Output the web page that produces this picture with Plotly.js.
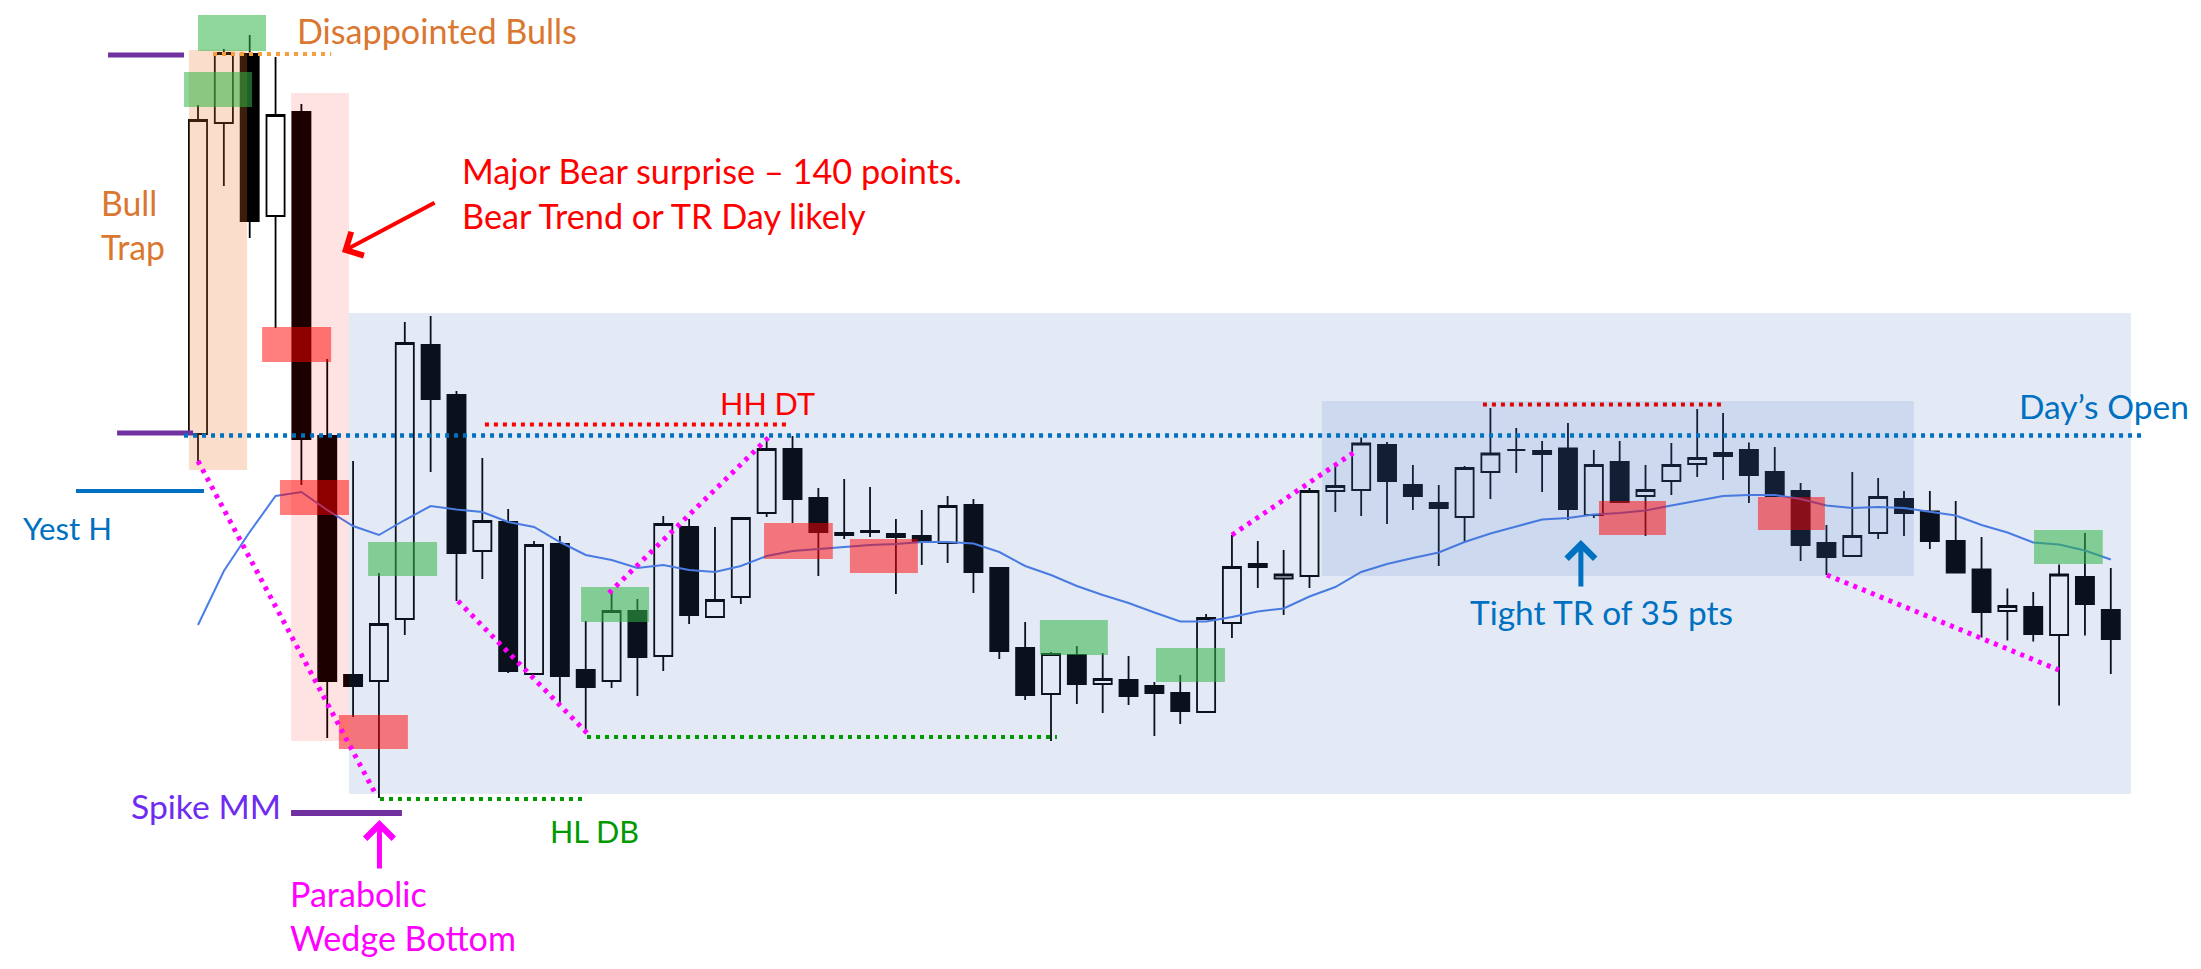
<!DOCTYPE html>
<html><head><meta charset="utf-8">
<script src="https://cdn.plot.ly/plotly-3.0.1.min.js"></script>
<style>html,body{margin:0;padding:0;background:#fff;}#chart{width:2201px;height:969px;}</style>
</head><body><div id="chart"></div>
<script>
// ---- data (bar index 0..74, prices) ----
const openP = [4133.2, 4195.4, 4209.2, 4176.8, 4197.6, 4132.8, 4085, 4083.8, 4096.2, 4151,
 4141, 4109.8, 4115.6, 4085.2, 4111.2, 4086, 4083.8, 4097.8, 4088.8, 4114.6,
 4096.6, 4100.6, 4117.4, 4130.2, 4120.4, 4113, 4113.8, 4113.2, 4112.8, 4111.4,
 4119, 4106.4, 4090.4, 4081.2, 4089, 4083.2, 4084, 4082.8, 4081.4, 4077.6,
 4095.4, 4106.6, 4104.3, 4104.8, 4121.8, 4122, 4131, 4123, 4119.4, 4116.6,
 4125.6, 4130, 4129.8, 4130.3, 4117, 4127.6, 4120.8, 4123.8, 4127.2, 4128.8,
 4130, 4125.6, 4121.8, 4111.4, 4108.8, 4113.4, 4120.2, 4117.7, 4111.8, 4106.1,
 4097.8, 4098.6, 4093, 4104.6, 4098];
const highP = [4199, 4210.2, 4213, 4208.6, 4199.2, 4148.2, 4127.8, 4105.4, 4155.6, 4156.8,
 4141.8, 4128.4, 4118.2, 4111.8, 4112.8, 4095.8, 4101.6, 4100.2, 4116.8, 4116.2,
 4114.6, 4116.4, 4132.4, 4132.8, 4122.4, 4124.2, 4122.6, 4116.2, 4118, 4120.8,
 4120.2, 4106.4, 4095.6, 4089.6, 4090.8, 4089.4, 4088.8, 4083.6, 4085, 4097.2,
 4113, 4111.8, 4110, 4122.4, 4127, 4132.5, 4131.6, 4127, 4123, 4126.8,
 4138.4, 4134.4, 4131.8, 4135.4, 4130, 4131.8, 4127, 4131.4, 4138.2, 4137.4,
 4131.5, 4130.6, 4123.4, 4115, 4125.6, 4124.4, 4121.8, 4121.8, 4119.8, 4112.6,
 4102.3, 4101.6, 4107.1, 4113.4, 4106.4];
const lowP = [4127.8, 4182.8, 4172.4, 4154.4, 4123, 4072.4, 4076.6, 4060.4, 4093, 4125.6,
 4099.8, 4104.2, 4085.4, 4085, 4079.2, 4073.8, 4082.4, 4080.8, 4085.8, 4095.2,
 4096.6, 4099.2, 4116.6, 4115.4, 4104.8, 4112.2, 4112.6, 4101.2, 4107, 4107.4,
 4101.4, 4088.2, 4080, 4071.8, 4079.2, 4077.4, 4079, 4072.8, 4075.2, 4077.6,
 4092.4, 4102.4, 4097, 4102.4, 4117.6, 4116.8, 4115.2, 4118, 4106.8, 4111.6,
 4120.2, 4125.4, 4121.6, 4116, 4116.4, 4119.4, 4112.8, 4121, 4124.6, 4124,
 4119.4, 4120.6, 4107.8, 4105, 4108.8, 4112.2, 4112.8, 4110.2, 4105.3, 4092.5,
 4091.9, 4091.7, 4078.9, 4092.9, 4085.2];
const closeP = [4196, 4209.4, 4175.8, 4197, 4132.2, 4083.8, 4082.8, 4095.2, 4151.4, 4140.2,
 4109.4, 4115.8, 4085.8, 4111, 4084.8, 4082.6, 4097.8, 4088.6, 4115.2, 4097,
 4100, 4116.4, 4130.2, 4120.2, 4113.6, 4113.4, 4113.6, 4112.6, 4111.6, 4118.8,
 4105.6, 4089.8, 4081, 4089.2, 4083.2, 4084.2, 4080.8, 4081.4, 4077.8, 4096.4,
 4106.6, 4107.2, 4105.1, 4121.8, 4122.8, 4131.3, 4123.8, 4120.8, 4118.4, 4126.4,
 4129.3, 4130, 4129.2, 4118.2, 4127, 4119.6, 4122, 4127, 4128.4, 4129.4,
 4125, 4120.8, 4111, 4108.6, 4112.8, 4120.6, 4117.4, 4111.8, 4105.5, 4097.6,
 4098.8, 4093.2, 4105.1, 4099.2, 4092.2];
const emaP = [4095, 4105.8, 4113.6, 4120.8, 4121.6, 4118, 4114.8, 4113, 4116, 4118.8,
 4118.1, 4117.6, 4115.6, 4114.6, 4111.6, 4109, 4108, 4106.4, 4107, 4106,
 4105.6, 4106.8, 4108.8, 4109.8, 4110.2, 4110.6, 4111, 4111.2, 4111.6, 4111.6,
 4111.3, 4109.6, 4106.8, 4105, 4102.8, 4101, 4099.4, 4097.5, 4095.7, 4095.7,
 4096.6, 4097.7, 4098.3, 4100.7, 4102.6, 4105.6, 4107.2, 4108.4, 4109.5, 4111.6,
 4113.3, 4114.7, 4116.1, 4116.4, 4117.1, 4117.4, 4117.9, 4118.9, 4119.9, 4120.8,
 4121, 4121, 4120.2, 4118.9, 4118.4, 4118.6, 4118.4, 4117.7, 4116.9, 4115,
 4113.5, 4111.5, 4111.1, 4109.9, 4108.1];
const barIdx = openP.map((_, i) => i);

const dayOpen = 4132.9, yestHigh = 4121.8;

// ---- styling helpers ----
const FONT = 'Lato, "Open Sans", sans-serif';
const BLUE = '#0070C0', ORANGE = '#DA7730', PURPLE = '#7030A0', GREEN = '#009A00', MAG = '#FF00FF', RED = '#FF0000';
const GREENBOX = 'rgba(50,180,70,0.55)', REDBOX = 'rgba(255,0,0,0.5)';

function rect(x0, x1, y0, y1, fill) {
  return {type:'rect', xref:'x', yref:'y', x0, x1, y0, y1, fillcolor: fill, line:{width:0}, layer:'above'};
}
function seg(x0, y0, x1, y1, color, width, dash) {
  return {type:'line', xref:'x', yref:'y', x0, y0, x1, y1, layer:'above',
          line:{color, width, dash: dash || 'solid'}};
}
const DOTS = '4px,5px', MDOTS = '4px,5.5px';

const shapes = [
  rect(5.84, 74.78, 4061.2, 4157.4, 'rgba(68,114,196,0.15)'),
  rect(43.48, 66.38, 4104.8, 4139.8, 'rgba(68,114,196,0.14)'),
  rect(-0.35, 1.9, 4126, 4210, 'rgba(237,125,49,0.25)'),
  rect(3.6, 5.84, 4071.8, 4201.4, 'rgba(255,0,0,0.11)'),
  // green boxes
  rect(0, 2.63, 4209.8, 4217, GREENBOX),
  rect(-0.54, 2.09, 4198.6, 4205.6, GREENBOX),
  rect(6.58, 9.25, 4104.8, 4111.6, GREENBOX),
  rect(14.82, 17.45, 4095.6, 4102.6, GREENBOX),
  rect(32.57, 35.2, 4089, 4096, GREENBOX),
  rect(37.06, 39.73, 4083.6, 4090.4, GREENBOX),
  rect(71.03, 73.69, 4107.2, 4114, GREENBOX),
  // red boxes
  rect(2.48, 5.15, 4147.6, 4154.6, REDBOX),
  rect(3.17, 5.84, 4117, 4124, REDBOX),
  rect(5.45, 8.12, 4070.2, 4077, REDBOX),
  rect(21.9, 24.56, 4108.2, 4115.4, REDBOX),
  rect(25.22, 27.85, 4105.4, 4112.2, REDBOX),
  rect(54.2, 56.79, 4113, 4119.8, REDBOX),
  rect(60.35, 62.94, 4114, 4120.6, REDBOX),
  // solid level lines
  seg(-3.48, 4209, -0.54, 4209, PURPLE, 5),
  seg(-3.13, 4133.4, -0.19, 4133.4, PURPLE, 5),
  seg(-4.72, yestHigh, 0.23, yestHigh, BLUE, 4),
  seg(3.6, 4057.4, 7.89, 4057.4, PURPLE, 6),
  // dotted lines
  seg(-0.54, dayOpen, 75.24, dayOpen, BLUE, 4.5, DOTS),
  seg(0.58, 4209.2, 5.15, 4209.2, '#F4A040', 4, DOTS),
  seg(11.1, 4135.1, 22.75, 4135.1, RED, 4, DOTS),
  seg(49.71, 4139.1, 59.11, 4139.1, '#E00000', 4, DOTS),
  seg(7.04, 4060.2, 14.97, 4060.2, GREEN, 4, DOTS),
  seg(15.05, 4072.6, 33.23, 4072.6, GREEN, 4, DOTS),
  seg(0, 4127.8, 6.85, 4061.4, MAG, 5, MDOTS),
  seg(10.06, 4099.8, 15.05, 4073.4, MAG, 5, MDOTS),
  seg(15.9, 4101.4, 22.17, 4133, MAG, 5, MDOTS),
  seg(40, 4113, 44.8, 4129.8, MAG, 5, MDOTS),
  seg(63.02, 4105, 71.99, 4086, MAG, 5, MDOTS)
];

function label(x, y, text, color) {
  return {xref:'x', yref:'y', x, y, text, showarrow:false, xanchor:'left', yanchor:'middle', align:'left',
          font:{family:FONT, size: 34, color}};
}
function arrow(x, y, ax, ay, color, width, size) {
  return {xref:'x', yref:'y', axref:'x', ayref:'y', x, y, ax, ay, text:'', showarrow:true,
          arrowhead:4, arrowsize: size, arrowwidth: width, arrowcolor: color, standoff:0, startstandoff:0};
}

const annotations = [
  label(3.75, 4213.9, 'Disappointed Bulls', ORANGE),
  label(-3.83, 4175.0, 'Bull<br>Trap', ORANGE),
  label(10.14, 4181.4, 'Major Bear surprise \u2013 140 points.<br>Bear Trend or TR Day likely', RED),
  label(-6.85, 4114.4, 'Yest H', BLUE),
  label(-2.67, 4058.8, 'Spike MM', '#6E2CF0'),
  label(13.54, 4053.8, 'HL DB', GREEN),
  label(3.48, 4036.9, 'Parabolic<br>Wedge Bottom', MAG),
  label(20.1, 4139.4, 'HH DT', RED),
  label(49.15, 4097.6, 'Tight TR of 35 pts', BLUE),
  label(70.37, 4138.8, 'Day\u2019s Open', BLUE),
  arrow(5.57, 4169.6, 9.21, 4179.6, RED, 4, 1.3),
  arrow(7.02, 4056, 7.02, 4046, MAG, 5, 1.1),
  arrow(53.5, 4112, 53.5, 4102.4, BLUE, 5, 1.1)
];
// widths (px) of the widest line of each text label in the reference, used to size the font
const labelWidths = [280, 64, 500, 89, 150, 89, 226, 95, 263, 170];

const traces = [
  {type:'scatter', mode:'lines', x: barIdx, y: emaP, line:{color:'#4A7DE8', width:2}, hoverinfo:'skip'},
  {type:'candlestick', x: barIdx, open: openP, high: highP, low: lowP, close: closeP,
   whiskerwidth: 0,
   increasing:{line:{color:'#000000', width:1.8}, fillcolor:'#FFFFFF'},
   decreasing:{line:{color:'#000000', width:1.8}, fillcolor:'#000000'}}
];

const layout = {
  width: 2201, height: 969,
  margin:{l:0, r:0, t:0, b:0, pad:0},
  paper_bgcolor:'#FFFFFF', plot_bgcolor:'#FFFFFF',
  showlegend:false,
  boxgap: 0.3, boxgroupgap: 0,
  xaxis:{range:[-7.66, 77.49], visible:false, showgrid:false, zeroline:false, rangeslider:{visible:false}, fixedrange:true},
  yaxis:{range:[4026.2, 4220], visible:false, showgrid:false, zeroline:false, fixedrange:true},
  shapes, annotations,
  font:{family:FONT}
};

Plotly.newPlot('chart', traces, layout, {displayModeBar:false, staticPlot:true}).then(gd => {
  const upd = {};
  labelWidths.forEach((w, i) => {
    const t = gd.querySelector('.annotation[data-index="' + i + '"] text.annotation-text');
    if (!t) return;
    const bw = t.getBBox().width;
    if (bw > 0) upd['annotations[' + i + '].font.size'] = +(34 * w / bw).toFixed(2);
  });
  return Plotly.relayout(gd, upd);
});
</script></body></html>
